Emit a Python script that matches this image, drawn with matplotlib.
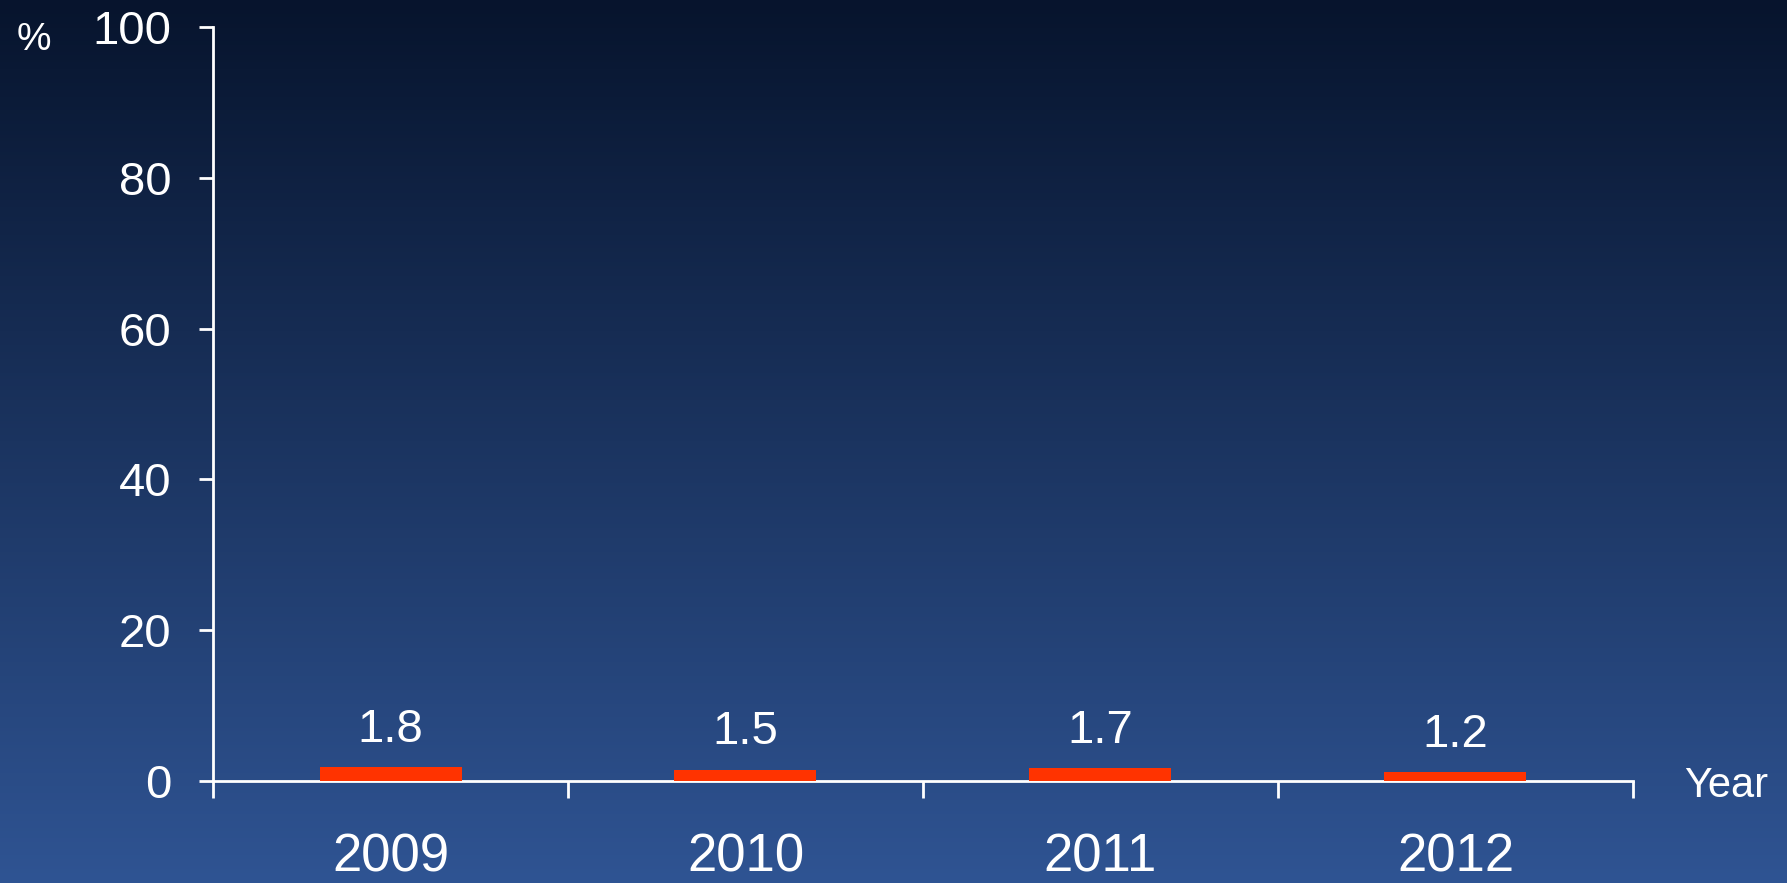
import matplotlib.pyplot as plt
import numpy as np
from matplotlib.colors import LinearSegmentedColormap

years = ['2009', '2010', '2011', '2012']
values = [1.8, 1.5, 1.7, 1.2]
yticks = [0, 20, 40, 60, 80, 100]

plt.rcParams['font.family'] = ['Liberation Sans', 'DejaVu Sans']

fig = plt.figure(figsize=(17.87, 8.83), dpi=100)

# background gradient
bg = fig.add_axes([0, 0, 1, 1])
grad = np.linspace(0, 1, 256).reshape(-1, 1)
cmap = LinearSegmentedColormap.from_list('bg', ['#07142d', '#2f5493'])
bg.imshow(grad, aspect='auto', cmap=cmap, extent=[0, 1, 0, 1], origin='upper')
bg.set_axis_off()

ax = fig.add_axes([0.1192, 0.1155, 0.7946, 0.8539])
ax.patch.set_alpha(0)

x = np.arange(len(years))
bars = ax.bar(x, values, width=0.4, color='#ff3300', zorder=3)
for xi, v in zip(x, values):
    ax.annotate(f'{v}', (xi, v), xytext=(0, 11), textcoords='offset points',
                ha='center', va='bottom', color='white', fontsize=34)

ax.set_xlim(-0.5, 3.5)
ax.set_ylim(0, 100)

for s in ['top', 'right']:
    ax.spines[s].set_visible(False)
for s in ['left', 'bottom']:
    ax.spines[s].set_color('white')
    ax.spines[s].set_linewidth(2)

ax.set_yticks(yticks)
ax.tick_params(axis='y', colors='white', labelsize=34, length=10, width=2, pad=20)

ax.set_xticks(np.arange(-0.5, 4, 1))
ax.set_xticklabels([])
ax.tick_params(axis='x', which='major', colors='white', length=12, width=2, direction='out')
ax.set_xticks(x, minor=True)
ax.set_xticklabels(years, minor=True)
ax.tick_params(axis='x', which='minor', length=0, labelsize=38, labelcolor='white', pad=37)

fig.text(0.019, 0.955, '%', color='white', fontsize=28, ha='center', va='center')
fig.text(0.966, 0.11, 'Year', color='white', fontsize=30, ha='center', va='center')

fig.savefig('out.png', dpi=100)
